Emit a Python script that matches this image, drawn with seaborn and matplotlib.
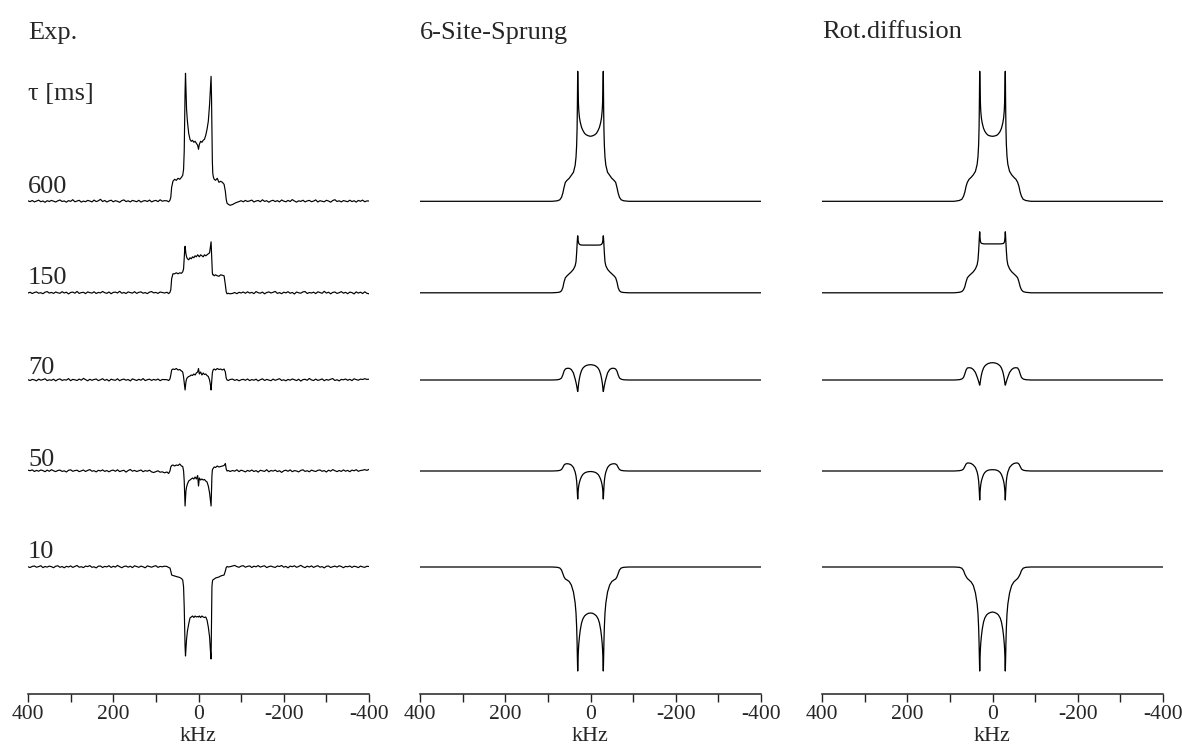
import numpy as np
import pandas as pd
import matplotlib
matplotlib.use("Agg")
import matplotlib.pyplot as plt
import seaborn as sns

# ---------------- DATA ----------------
panel_titles = ["Exp.", "6-Site-Sprung", "Rot.diffusion"]
tau_values = ["600", "150", "70", "50", "10"]
tick_values = [400, 200, 0, -200, -400]
tick_labels = ["400", "200", "0", "-200", "-400"]
minor_tick_values = [300, 100, -100, -300]
x_label = "kHz"
tau_header = "τ [ms]"

# simulated spectra: frequency grid (kHz)
sim_khz = [400, 90, 78, 72, 68, 65, 62, 59, 55, 50, 45, 40, 36, 34, 32.5, 31.5, 30.8, 30.3, 30, 29.7,
           29.2, 28.5, 27.5, 26, 24, 21, 18, 14, 10, 5, 0, -5, -10, -14, -18, -21, -24, -26, -27.5, -28.5,
           -29.2, -29.7, -30, -30.3, -30.8, -31.5, -32.5, -34, -36, -40, -45, -50, -55, -59, -62, -65, -68,
           -72, -78, -90, -400]

site_600 = [0, 0, 0.5, 1.5, 4, 8, 14, 19, 21, 23, 26, 29, 36, 44, 56, 72, 95, 118, 130, 124, 112, 100, 91, 84,
            79, 74, 71, 68, 66.5, 65.5, 65,
            65.5, 66.5, 68, 71, 74, 79, 84, 91, 100, 112, 124, 130, 118, 95, 72, 56, 44, 36, 29, 26, 23, 21,
            19, 14, 8, 4, 1.5, 0.5, 0, 0]
site_150 = [0, 0, 0.3, 0.7, 2, 5, 11, 15, 17, 19, 21, 23.5, 27, 31, 40, 48, 53, 56, 57, 56, 53.5, 51, 49.5,
            48.5, 48, 47.8, 47.7, 47.7, 47.7, 47.7, 47.7,
            47.7, 47.7, 47.7, 47.7, 47.8, 48, 48.5, 49.5, 51, 53.5, 56, 57, 56, 53, 48, 40, 31, 27, 23.5, 21,
            19, 17, 15, 11, 5, 2, 0.7, 0.3, 0, 0]
site_70 = [0, 0, 0.2, 0.8, 2, 5, 9, 11, 11.7, 11.7, 10.5, 7, 1, -2.5, -5.5, -8, -10, -11, -11.5, -11, -9, -6,
           -2.5, 1.5, 5.5, 9.5, 11.8, 13.5, 14.5, 15.1, 15.3,
           15.1, 14.5, 13.5, 11.8, 9.5, 5.5, 1.5, -2.5, -6, -9, -11, -11.5, -11, -10, -8, -5.5, -2.5, 1, 7,
           10.5, 11.7, 11.7, 11, 9, 5, 2, 0.8, 0.2, 0, 0]
site_50 = [0, 0, 0.2, 0.6, 1.5, 3.5, 6, 7, 7.3, 7, 6, 3.5, -1, -5, -10, -16, -22, -26.5, -28, -26.5, -22, -18,
           -14.5, -11.5, -8.5, -5.5, -3.5, -2, -1.2, -0.7, -0.5,
           -0.7, -1.2, -2, -3.5, -5.5, -8.5, -11.5, -14.5, -18, -22, -26.5, -28, -26.5, -22, -16, -10, -5, -1,
           3.5, 6, 7, 7.3, 7, 6, 3.5, 1.5, 0.6, 0.2, 0, 0]
site_10 = [0, 0, -0.3, -1, -3, -6.5, -10, -12, -13, -14.5, -18, -25, -36, -46, -60, -75, -90, -100, -104, -100,
           -92, -84, -77, -70, -63, -56, -52, -49, -47.5, -46.3, -46,
           -46.3, -47.5, -49, -52, -56, -63, -70, -77, -84, -92, -100, -104, -100, -90, -75, -60, -46, -36,
           -25, -18, -14.5, -13, -12, -10, -6.5, -3, -1, -0.3, 0, 0]

rot_600 = [0, 0, 0.8, 2, 5, 9, 15, 19, 22, 24, 26.5, 30, 37, 45, 57, 74, 97, 120, 130, 125, 113, 100, 90, 83,
           78, 73, 70, 67.5, 66, 65.3, 65,
           65.3, 66, 67.5, 70, 73, 78, 83, 90, 100, 113, 125, 130, 120, 97, 74, 57, 45, 37, 30, 26.5, 24, 22,
           19, 15, 9, 5, 2, 0.8, 0, 0]
rot_150 = [0, 0, 0.5, 1.2, 3, 6, 11, 15, 17, 19, 21, 24, 28, 33, 42, 50, 56, 60, 61, 59, 55, 52, 50.3, 49.5,
           49.2, 49, 48.9, 48.9, 48.9, 48.9, 48.9,
           48.9, 48.9, 48.9, 48.9, 49, 49.2, 49.5, 50.3, 52, 55, 59, 61, 60, 56, 50, 42, 33, 28, 24, 21, 19,
           17, 15, 11, 6, 3, 1.2, 0.5, 0, 0]
rot_70 = [0, 0, 0.3, 1, 2.5, 6, 10, 12, 12.3, 12, 10.5, 7.5, 3, 0.5, -1.5, -3, -4.2, -5, -5.2, -5, -3.5, -1.5,
          1.5, 5, 8.5, 12, 14, 15.5, 16.5, 17.1, 17.3,
          17.1, 16.5, 15.5, 14, 12, 8.5, 5, 1.5, -1.5, -3.5, -5, -5.2, -5, -4.2, -3, -1.5, 0.5, 3, 7.5, 10.5,
          12, 12.3, 12, 10, 6, 2.5, 1, 0.3, 0, 0]
rot_50 = [0, 0, 0.3, 0.8, 2, 4.5, 7, 8, 8, 7.5, 6, 3.5, -1, -5, -10, -16, -22, -27, -29, -27, -22, -17.5,
          -13.5, -10, -7, -3.5, -1.5, 0, 0.8, 1.2, 1.3,
          1.2, 0.8, 0, -1.5, -3.5, -7, -10, -13.5, -17.5, -22, -27, -29, -27, -22, -16, -10, -5, -1, 3.5, 6,
          7.5, 8, 8, 7, 4.5, 2, 0.8, 0.3, 0, 0]
rot_10 = [0, 0, -0.3, -1.2, -3.5, -7, -9.5, -11.5, -13, -15, -18.5, -26, -37, -47, -61, -76, -91, -100, -104,
          -100, -91, -83, -76, -69, -62, -55, -51, -48, -46.5, -45.5, -45,
          -45.5, -46.5, -48, -51, -55, -62, -69, -76, -83, -91, -100, -104, -100, -91, -76, -61, -47, -37, -26,
          -18.5, -15, -13, -11.5, -9.5, -7, -3.5, -1.2, -0.3, 0, 0]

# experimental spectra: frequency grids (kHz)
exp_khz_left = [400, 395, 390, 385, 380, 375, 370, 365, 360, 355, 350, 345, 340,
                335, 330, 325, 320, 315, 310, 305, 300, 295, 290, 285, 280, 275,
                270, 265, 260, 255, 250, 245, 240, 235, 230, 225, 220, 215, 210,
                205, 200, 195, 190, 185, 180, 175, 170, 165, 160, 155, 150, 145,
                140, 135, 130, 125, 120, 115, 110, 105, 100, 95, 90, 85, 80]
exp_khz_mid = [74, 70, 67, 65, 63, 60, 56, 52, 48, 44, 40, 37, 35, 33.5, 32.5, 31.5, 30.5, 29.5, 28, 26,
               23, 20, 17, 14, 11, 8, 5, 2, 0, -2, -5, -8, -11, -14, -17, -20, -23, -26, -28, -29.5,
               -30.5, -31.5, -32.5, -33.5, -35, -37, -40, -44, -48, -52, -56, -60, -63, -65, -67, -70, -74]
exp_khz_right = [-80, -85, -90, -95, -100, -105, -110, -115, -120, -125, -130, -135, -140,
                 -145, -150, -155, -160, -165, -170, -175, -180, -185, -190, -195, -200, -205,
                 -210, -215, -220, -225, -230, -235, -240, -245, -250, -255, -260, -265, -270,
                 -275, -280, -285, -290, -295, -300, -305, -310, -315, -320, -325, -330, -335,
                 -340, -345, -350, -355, -360, -365, -370, -375, -380, -385, -390, -395, -400]

exp600_left = [0.4, -0.3, 0.8, -0.6, 0.2, 1.1, -0.4, 0.3, -1.0, 0.6, -0.2, 0.9, 0.1,
               -0.7, 0.5, 1.3, -0.2, 0.4, -0.9, 0.7, -0.1, 1.6, -0.5, 0.3, 1.0, -0.8,
               0.2, -0.4, 0.9, 0.3, -0.6, 1.2, -0.3, 0.5, 2.0, -0.2, 0.8, -0.7, 0.4,
               1.1, -0.5, 0.6, 0.0, -1.0, 0.7, 1.4, -0.3, 0.5, -0.6, 0.9, 0.2, -0.4,
               1.0, -0.8, 0.3, 0.7, -0.2, 1.2, -0.6, 0.4, 0.9, -0.3, 1.5, 0.1, 0.6]
exp600_mid = [0.5, -0.5, 1, 4, 14, 20, 22, 21, 23, 22,
              24, 26, 32, 50, 80, 110, 128, 112, 92, 80,
              68, 62, 60, 61, 59, 60, 58, 56, 52, 57,
              60, 59, 61, 62, 66, 72, 80, 97, 112, 125,
              105, 70, 40, 28, 24, 22, 21, 23, 19, 20,
              19, 17, 10, 2, -2, -3, -4]
exp600_right = [-3.2, -2.0, -1.0, -0.3, 0.6, -0.5, 0.9, -0.2, 0.4, 1.2, -0.7, 0.3, 0.8,
                -0.4, 1.5, -0.1, 0.6, -0.9, 0.4, 1.0, -0.3, 0.7, -0.6, 1.3, 0.2, -0.5,
                0.9, -0.2, 1.7, 0.3, -0.8, 0.5, -0.1, 1.1, -0.6, 0.4, 0.9, -0.4, 0.2,
                1.4, -0.7, 0.6, 0.1, -0.5, 1.0, 0.3, -0.9, 0.8, 1.6, -0.2, 0.5, -0.6,
                0.7, 0.2, -0.4, 1.1, -0.3, 0.6, -0.8, 0.9, 0.0, 1.2, -0.5, 0.4, 0.3]

exp150_left = [-0.2, 0.5, -0.7, 0.3, 0.9, -0.4, 0.1, -0.9, 0.6, 1.2, -0.3, 0.4, -0.6,
               0.8, 0.0, -0.5, 1.1, -0.2, 0.6, -1.1, 0.3, 0.7, -0.4, 1.4, -0.6, 0.2,
               0.5, -0.8, 0.9, 0.2, -0.3, 1.0, -0.7, 0.4, -0.1, 1.3, 0.1, -0.5, 0.8,
               -0.9, 0.4, 0.7, -0.2, 1.5, -0.4, 0.3, -0.7, 0.9, 0.2, -0.3, 1.1, -0.6,
               0.5, 0.9, -0.4, 0.2, -0.8, 0.7, 1.2, -0.1, 0.4, -0.6, 0.8, 0.3, -0.2]
exp150_mid = [0.5, -0.8, 0.5, 3, 14, 19, 19, 20, 19, 20,
              19.5, 21, 24, 35, 42, 46.5, 43, 39, 36, 34,
              33, 35, 34, 36, 35, 37, 36, 38, 37, 36,
              38, 37, 36, 38, 37, 38, 39, 40, 46, 51,
              40, 28, 20, 18, 18, 17, 18, 17, 16.5, 18,
              17.5, 17, 8, 1, -1, -0.5, -1]
exp150_right = [-0.6, 0.3, -0.9, 0.5, -0.2, 0.8, -0.5, 1.0, -0.3, 0.4, -0.8, 1.2, 0.1,
                -0.4, 0.7, -1.0, 0.3, 0.9, -0.2, 0.5, 1.4, -0.6, 0.2, -0.9, 0.6, -0.1,
                1.1, -0.5, 0.4, -1.2, 0.8, 0.0, -0.4, 0.9, 1.3, -0.7, 0.3, -0.2, 0.6,
                -0.8, 1.0, 0.2, -0.5, 1.5, -0.3, 0.6, -1.0, 0.4, 0.8, -0.6, 0.1, 1.2,
                -0.4, 0.5, -0.9, 0.7, 0.2, -1.1, 0.9, -0.3, 0.6, -0.7, 1.0, -0.5, -1.0]

exp70_left = [0.3, -0.5, 0.6, 0.1, -0.8, 0.9, -0.2, 0.4, 1.2, -0.6, 0.2, -0.3, 0.8,
              -0.9, 0.5, 1.1, -0.4, 0.3, -0.1, 1.4, -0.7, 0.6, 0.2, -0.5, 0.9, -0.2,
              1.6, 0.4, -0.8, 0.7, -0.3, 0.5, 1.0, -0.6, 0.2, 1.3, -0.4, 0.6, -1.0,
              0.8, 0.1, -0.3, 1.2, -0.7, 0.4, 0.9, -0.2, 0.5, -0.9, 1.1, 0.3, -0.5,
              0.7, -0.2, 1.4, -0.6, 0.3, 0.8, -0.4, 0.6, -0.1, 1.0, -0.7, 0.5, 0.4]
exp70_mid = [0.3, -0.5, 1, 5, 10, 11, 10.5, 11.5, 10, 10.5,
             9, 8, 3, -3, -7, -10, -6, -2, 1, 2.5,
             3.5, 4, 5, 4.5, 6, 5, 7, 8, 11.5, 6,
             8, 5, 7, 5.5, 6, 4.5, 3.5, 0, -5, -10,
             -4, 2, 7, 9, 10.5, 11, 10, 11.5, 10.5, 11,
             10, 11, 8, 2, 0, -0.5, 0.5]
exp70_right = [0.9, -0.4, 0.5, -0.8, 0.2, 0.7, -0.3, 1.0, -0.6, 0.4, -0.2, 0.8, -0.9,
               0.3, 1.2, -0.5, 0.6, 0.0, -0.7, 0.9, -0.3, 0.5, 1.3, -0.4, 0.2, -0.8,
               0.6, -0.2, 1.0, 0.3, -0.6, 0.8, -1.1, 0.4, 0.7, -0.3, 1.5, 0.1, -0.5,
               0.9, -0.4, 0.2, 1.1, -0.7, 0.5, -0.2, 0.8, 1.4, -0.5, 0.3, -0.9, 0.6,
               0.2, 1.0, -0.3, 0.7, -0.6, 1.2, 0.4, -0.2, 0.9, 0.5, 1.3, 0.6, 0.8]

exp50_left = [0.8, 0.3, 1.1, -0.5, 0.6, -0.2, 1.0, 0.4, -0.7, 0.9, -0.3, 1.3, 0.2,
              -0.6, 0.5, 0.9, -0.4, 0.2, -1.0, 0.7, 1.2, -0.3, 0.4, 0.8, -0.6, 0.1,
              1.0, -0.5, 0.6, 1.4, -0.2, 0.3, -0.9, 0.7, 0.0, 1.1, -0.4, 0.5, -0.8,
              0.4, 0.9, -0.3, 1.2, -0.6, 0.2, 0.7, -1.1, 0.5, 1.5, -0.2, 0.6, -0.5,
              0.3, 1.0, -0.7, 0.4, -0.2, 0.8, -0.9, -1.5, -0.6, 0.2, -1.2, -0.8, -1.8]
exp50_mid = [-1, -2.5, 0, 4, 5.5, 6, 5, 6, 5.5, 7,
             5, 4.5, 0, -10, -22, -35, -28, -20, -16, -13,
             -10, -9, -8, -7, -8, -6, -8, -4.5, -15, -7,
             -9, -8, -9, -8.5, -10, -11, -15, -22, -30, -35,
             -20, -5, 1, 2, 3, 4, 3.5, 5, 4, 4.5,
             5, 5.5, 7.5, 2, 0, 0.5, -0.5]
exp50_right = [0.5, -0.2, 1.2, -0.6, 0.8, 0.1, -0.9, 0.6, -0.3, 1.0, -0.5, 0.4, -1.1,
               0.7, 0.2, -0.4, 1.3, -0.8, 0.5, -0.1, 0.9, -0.6, 0.3, -1.4, 0.2, 0.8,
               -0.3, 1.1, -0.7, 0.4, 0.0, -0.9, 0.6, 1.2, -0.4, 0.3, -0.8, 0.9, 0.1,
               -0.5, 0.7, 1.0, -0.3, 0.4, -1.0, 0.8, -0.2, 1.4, 0.3, -0.6, 0.5, -0.4,
               1.1, -0.2, 0.6, -0.7, 0.9, 0.2, 1.3, -0.3, 0.5, 0.8, 1.4, 0.6, 1.7]

exp10_left = [0.2, -0.5, 0.6, 1.0, -0.2, 0.4, 1.3, -0.6, 0.5, -0.1, 0.9, 0.3, -0.7,
              0.8, 1.2, -0.3, 0.5, -0.8, 0.7, 0.0, 1.1, -0.4, 0.6, 1.5, -0.2, 0.3,
              -0.6, 0.9, 0.4, 1.4, -0.3, 0.2, -0.9, 0.8, 1.0, -0.5, 0.6, 0.1, 1.3,
              -0.4, 0.7, -0.1, 1.6, 0.3, -0.7, 0.5, 1.0, -0.2, 0.8, -0.6, 1.2, 0.4,
              -0.3, 0.9, 0.2, -0.8, 1.1, 0.5, -0.2, 0.7, 1.3, -0.4, 0.6, 0.2, 0.8]
exp10_mid = [0.5, -0.5, -1, -4, -8, -8.5, -9, -9.5, -10, -10.5,
             -11.5, -13, -20, -40, -62, -80, -89, -82, -72, -64,
             -57, -51, -50, -49, -50.5, -49, -50, -49.5, -50, -49,
             -50.5, -49, -50, -50.5, -50, -53, -60, -70, -84, -92,
             -60, -20, -15, -13, -12.5, -12, -11, -10.5, -10, -9,
             -8.5, -8, -4, -0.5, 0.5, 0, 0.3]
exp10_right = [1.0, 1.6, 0.4, -0.3, 0.9, 1.3, -0.2, 0.6, 1.1, -0.5, 0.8, 0.2, 1.4,
               -0.1, 0.7, 1.2, -0.6, 0.4, 0.9, 0.1, -0.4, 1.0, 0.5, 1.5, -0.2, 0.6,
               -0.8, 0.9, 0.3, 1.2, -0.3, 0.5, 1.7, 0.2, -0.6, 0.8, 0.0, 1.1, -0.4,
               0.6, 1.3, -0.2, 0.4, -0.9, 0.7, 1.0, -0.5, 0.3, 0.9, -0.1, 1.2, 0.5,
               -0.7, 0.6, 0.2, 1.0, -0.4, 0.8, 0.3, -0.6, 0.9, 0.1, -0.3, 0.7, 0.5]

# ---------------- BUILD TABLE ----------------
exp_khz = exp_khz_left + exp_khz_mid + exp_khz_right
exp_sets = {
    "600": exp600_left + exp600_mid + exp600_right,
    "150": exp150_left + exp150_mid + exp150_right,
    "70": exp70_left + exp70_mid + exp70_right,
    "50": exp50_left + exp50_mid + exp50_right,
    "10": exp10_left + exp10_mid + exp10_right,
}
site_sets = {"600": site_600, "150": site_150, "70": site_70, "50": site_50, "10": site_10}
rot_sets = {"600": rot_600, "150": rot_150, "70": rot_70, "50": rot_50, "10": rot_10}

frames = []
for panel, (grid, sets) in zip(panel_titles, [(exp_khz, exp_sets), (sim_khz, site_sets), (sim_khz, rot_sets)]):
    for tau in tau_values:
        frames.append(pd.DataFrame({"panel": panel, "tau": tau, "kHz": grid, "intensity": sets[tau]}))
df = pd.concat(frames, ignore_index=True)

# ---------------- LAYOUT ----------------
W, H = 1182, 749
sns.set_style("white")
plt.rcParams["font.family"] = ["Liberation Serif", "DejaVu Serif"]

fig = plt.figure(figsize=(W / 100, H / 100), dpi=100)

panel_left_px = [28, 420, 822]
panel_width_px = 341
axis_y_px = 694
top_px = 60
row_baseline_px = {"600": 201.3, "150": 292.8, "70": 380, "50": 471, "10": 567}
row_label_baseline_px = {"600": 193, "150": 284, "70": 374, "50": 466, "10": 558}


def fx(px):
    return px / W


def fy(py):
    return 1 - py / H


for i, panel in enumerate(panel_titles):
    ax = fig.add_axes([fx(panel_left_px[i]), (H - axis_y_px) / H,
                       panel_width_px / W, (axis_y_px - top_px) / H])
    sub = df[df["panel"] == panel]
    lw = 0.85 if i == 0 else 0.9
    for tau in tau_values:
        d = sub[sub["tau"] == tau].copy()
        d["y"] = d["intensity"] + (axis_y_px - row_baseline_px[tau])
        sns.lineplot(data=d, x="kHz", y="y", ax=ax, color="black", linewidth=lw,
                     sort=False, estimator=None, legend=False)
    ax.set_xlim(400, -400)
    ax.set_ylim(0, axis_y_px - top_px)
    for s in ["left", "right", "top"]:
        ax.spines[s].set_visible(False)
    ax.spines["bottom"].set_linewidth(1.1)
    ax.spines["bottom"].set_color("#222222")
    ax.set_yticks([])
    ax.set_ylabel("")
    ax.set_xticks(tick_values)
    ax.set_xticklabels(tick_labels)
    ax.set_xticks(minor_tick_values, minor=True)
    ax.tick_params(axis="x", which="both", bottom=True, direction="out", length=6, width=1,
                   color="#222222", labelsize=15.5, pad=2)
    ax.set_xlabel(x_label, fontsize=16, labelpad=2)
    ax.patch.set_alpha(0)
    fig.text(fx(panel_left_px[i]), fy(38.5), panel, fontsize=19, ha="left", va="baseline")

fig.text(fx(28), fy(100), tau_header, fontsize=19, ha="left", va="baseline")
for tau in tau_values:
    fig.text(fx(28), fy(row_label_baseline_px[tau]), tau, fontsize=19, ha="left", va="baseline")

fig.savefig("out.png", dpi=100)
